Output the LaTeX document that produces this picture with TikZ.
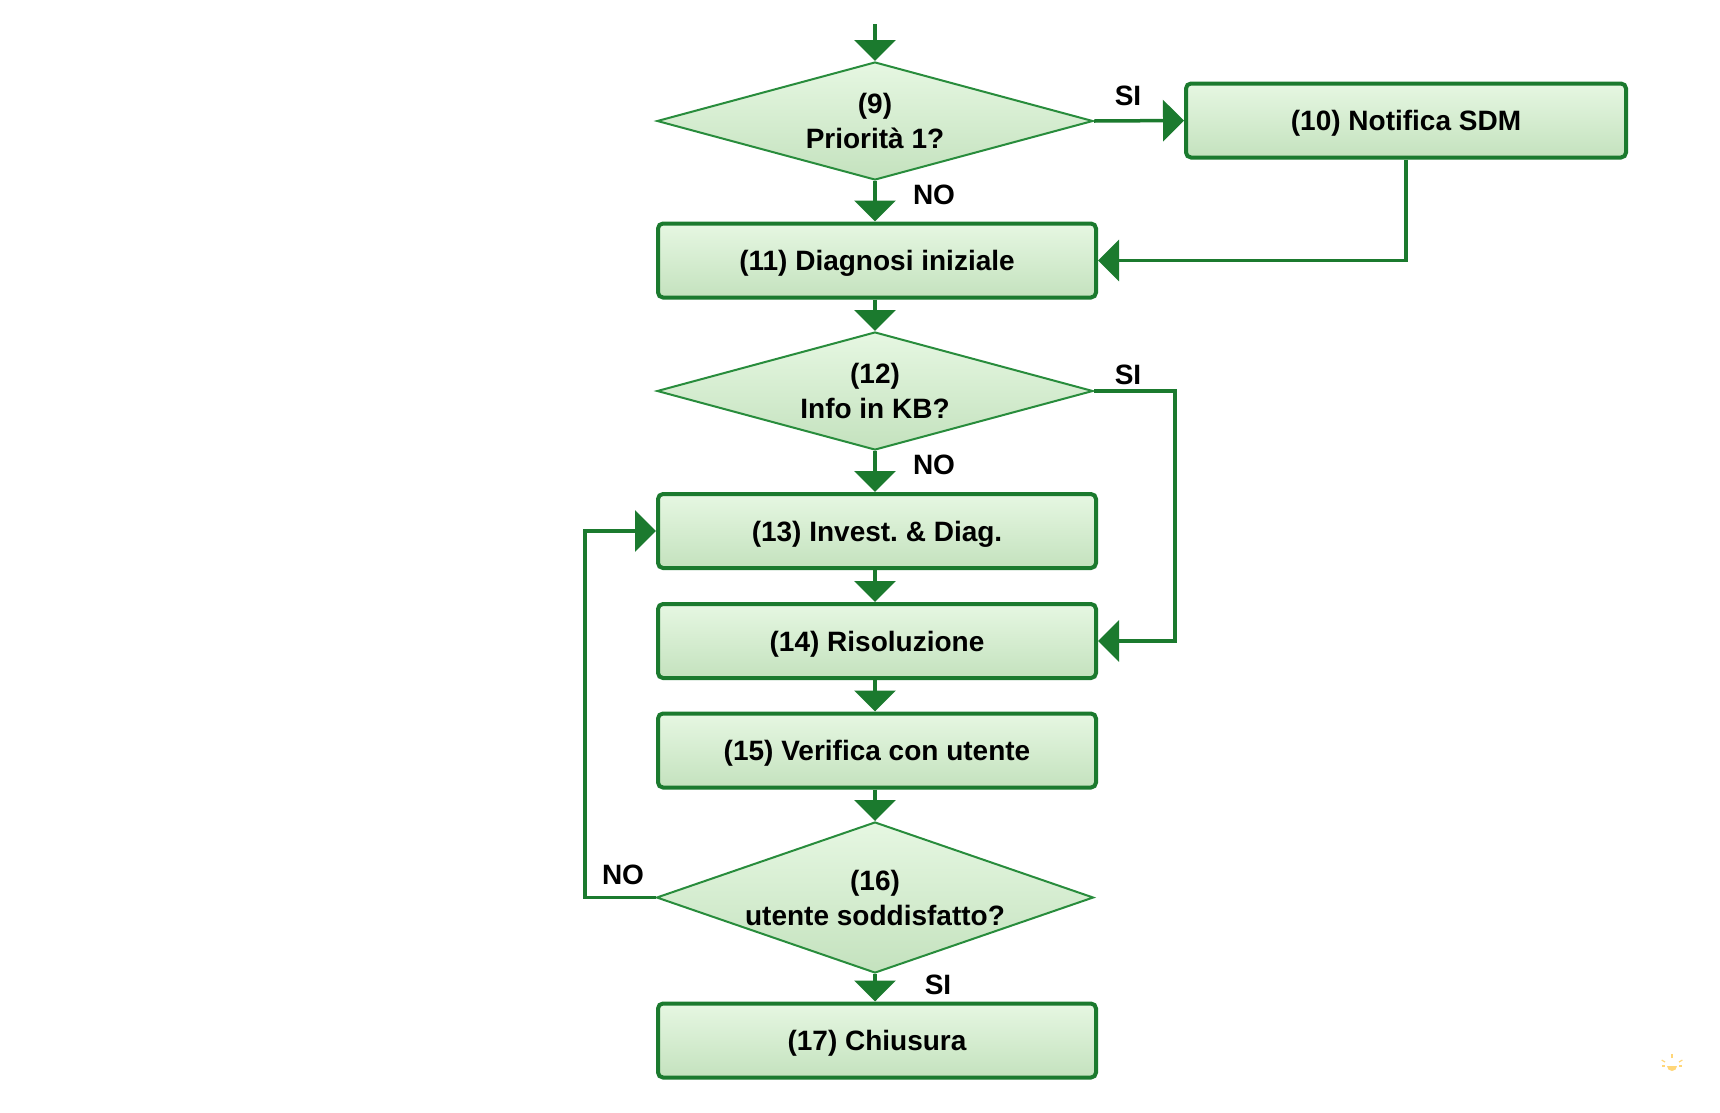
\documentclass[tikz,border=0pt]{standalone}
\usepackage{fontspec}
\setmainfont{Liberation Sans}
\usetikzlibrary{shapes.geometric,arrows.meta}
\definecolor{lg}{RGB}{27,122,46}
\definecolor{dg}{RGB}{40,140,60}
\definecolor{ftop}{RGB}{230,247,226}
\definecolor{fbot}{RGB}{196,226,190}
\definecolor{sun}{RGB}{255,214,120}
\frenchspacing
\begin{document}
\begin{tikzpicture}[x=1pt,y=-1pt,
  font=\fontsize{28}{35}\selectfont\bfseries,
  box/.style={draw=lg, line width=4pt, rounded corners=5pt, top color=ftop, bottom color=fbot,
    minimum width=438pt, minimum height=74pt, inner sep=0pt, text depth=0pt},
  dec/.style={diamond, draw=dg, line width=2pt, top color=ftop, bottom color=fbot, inner sep=0pt,
    minimum width=436pt},
  dtext/.style={align=center, inner sep=0pt},
  conn/.style={draw=lg, line width=3.5pt, -{Triangle[length=21pt,width=41pt]}},
  lab/.style={text=black, inner sep=0pt}]
\useasboundingbox (0,0) rectangle (1720,1112);

% nodes
\node[dec, minimum height=118pt] (d9) at (875,121) {};
\node[dtext] (d9t) at (d9.center) {(9)\\Priorità 1?};
\node[box, minimum width=440pt] (b10) at (1406,120.5) {(10) Notifica SDM};
\node[box] (b11) at (877,260.5) {(11) Diagnosi iniziale};
\node[dec, minimum height=118pt] (d12) at (875,391) {};
\node[dtext] (d12t) at (d12.center) {(12)\\Info in KB?};
\node[box] (b13) at (877,531) {(13) Invest. \& Diag.};
\node[box] (b14) at (877,641) {(14) Risoluzione};
\node[box] (b15) at (877,750.5) {(15) Verifica con utente};
\node[dec, minimum height=151pt, minimum width=437pt] (d16) at (875,897.5) {};
\node[dtext] (d16t) at (d16.center) {(16)\\utente soddisfatto?};
\node[box] (b17) at (877,1040.5) {(17) Chiusura};

% helper coordinates
\coordinate (start) at (875,24);
\coordinate (c12) at (1175,391);
\coordinate (c16) at (585,897.5);

% connectors
\draw[conn] (start) -- (d9.north);
\draw[conn] (d9.east) -- (b10.west);
\draw[conn] (d9.south) -- (d9.south |- b11.north);
\draw[conn] (b10.south) |- (b11.east);
\draw[conn] (b11.south -| d12.north) -- (d12.north);
\draw[conn] (d12.south) -- (d12.south |- b13.north);
\draw[conn] (d12.east) -- (c12) |- (b14.east);
\draw[conn] (b13.south -| d12.south) -- (d12.south |- b14.north);
\draw[conn] (b14.south -| d12.south) -- (d12.south |- b15.north);
\draw[conn] (b15.south -| d16.north) -- (d16.north);
\draw[conn] (d16.west) -- (c16) |- (b13.west);
\draw[conn] (d16.south) -- (d16.south |- b17.north);

% labels
\node[lab] (l1) at (1128,96) {SI};
\node[lab] (l2) at (934,195) {NO};
\node[lab] (l3) at (1128,375) {SI};
\node[lab] (l4) at (934,465) {NO};
\node[lab] (l5) at (623,875) {NO};
\node[lab] (l6) at (938,985) {SI};

% small sun mark
\fill[sun] (1667,1066) arc[start angle=180, end angle=0, radius=5] -- cycle;
\foreach \a in {30,90,150} {
  \draw[sun, line width=1.2pt] (1672,1066) ++(-\a:8) -- ++(-\a:4);
}
\draw[sun, line width=1.2pt] (1662,1066) -- (1665,1066);
\draw[sun, line width=1.2pt] (1679,1066) -- (1682,1066);
\end{tikzpicture}
\end{document}
